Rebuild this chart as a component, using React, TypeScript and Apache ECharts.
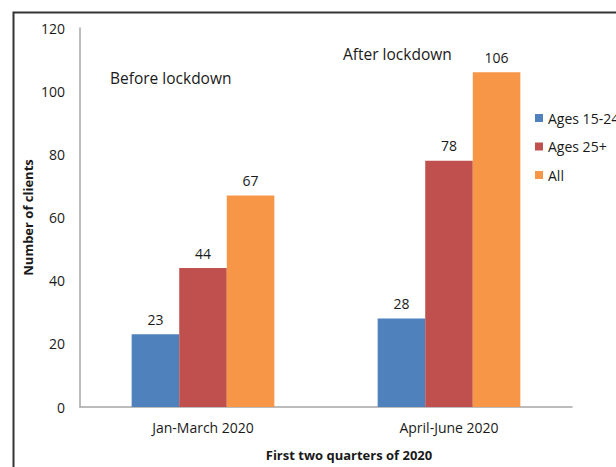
import React, { useEffect, useRef } from "react";
import * as echarts from "echarts";

const categories = ["Jan-March 2020", "April-June 2020"];
const seriesNames = ["Ages 15-24", "Ages 25+", "All"];
const ages15to24 = [23, 28];
const ages25plus = [44, 78];
const allAges = [67, 106];
const colors = ["#4F81BD", "#C0504D", "#F79646"];
const yTicks = { min: 0, max: 120, interval: 20 };

const FONT = "'Open Sans', 'Noto Sans', sans-serif";
const TEXT = "#1a1a1a";

export default function App() {
  const ref = useRef<HTMLDivElement>(null);

  useEffect(() => {
    if (!ref.current) return;
    const chart = echarts.init(ref.current, null, { renderer: "svg" });
    const values = [ages15to24, ages25plus, allAges];

    chart.setOption({
      animation: false,
      backgroundColor: "#ffffff",
      textStyle: { fontFamily: FONT, color: TEXT },
      grid: { left: 80, right: 44, top: 28, bottom: 60 },
      legend: {
        orient: "vertical",
        left: 535,
        top: 111,
        padding: 0,
        itemWidth: 8,
        itemHeight: 8,
        itemGap: 14.5,
        icon: "rect",
        data: seriesNames,
        textStyle: { fontFamily: FONT, fontSize: 14, color: TEXT },
      },
      xAxis: {
        type: "category",
        data: categories,
        axisLine: { lineStyle: { color: "#a6a6a6", width: 1.5 } },
        axisTick: { show: false },
        axisLabel: { fontFamily: FONT, fontSize: 14, color: TEXT, margin: 13 },
      },
      yAxis: {
        type: "value",
        min: yTicks.min,
        max: yTicks.max,
        interval: yTicks.interval,
        name: "Number of clients",
        nameLocation: "middle",
        nameGap: 46,
        nameMoveOverlap: false,
        nameTextStyle: { fontFamily: FONT, fontSize: 13, fontWeight: "bold", color: TEXT },
        axisLine: { show: true, lineStyle: { color: "#a6a6a6", width: 1.5 } },
        axisTick: { show: false },
        splitLine: { show: false },
        axisLabel: { fontFamily: FONT, fontSize: 14, color: TEXT, margin: 15 },
      },
      graphic: [
        // outer frame around the chart (continues past the right and bottom edges)
        {
          type: "polyline",
          shape: { points: [[13.5, 480], [13.5, 12.5], [640, 12.5]] },
          style: { fill: null, stroke: "#333333", lineWidth: 2 },
          silent: true,
          z: 100,
        },
        {
          type: "text",
          x: 110,
          y: 78,
          style: { text: "Before lockdown", font: `15.5px ${FONT}`, fill: TEXT, verticalAlign: "middle" },
        },
        {
          type: "text",
          x: 343,
          y: 54,
          style: { text: "After lockdown", font: `15.5px ${FONT}`, fill: TEXT, verticalAlign: "middle" },
        },
        {
          type: "text",
          x: 349,
          y: 455,
          style: {
            text: "First two quarters of 2020",
            font: `bold 13px ${FONT}`,
            fill: TEXT,
            align: "center",
            verticalAlign: "middle",
          },
        },
      ],
      series: seriesNames.map((name, i) => ({
        name,
        type: "bar",
        data: values[i],
        barGap: "0%",
        barCategoryGap: "42%",
        itemStyle: { color: colors[i] },
        label: {
          show: true,
          position: "top",
          distance: 8,
          fontFamily: FONT,
          fontSize: 14,
          color: TEXT,
        },
      })),
    });

    return () => chart.dispose();
  }, []);

  return (
    <div
      ref={ref}
      style={{ position: "absolute", left: 0, top: 0, width: 616, height: 467, overflow: "hidden" }}
    />
  );
}
